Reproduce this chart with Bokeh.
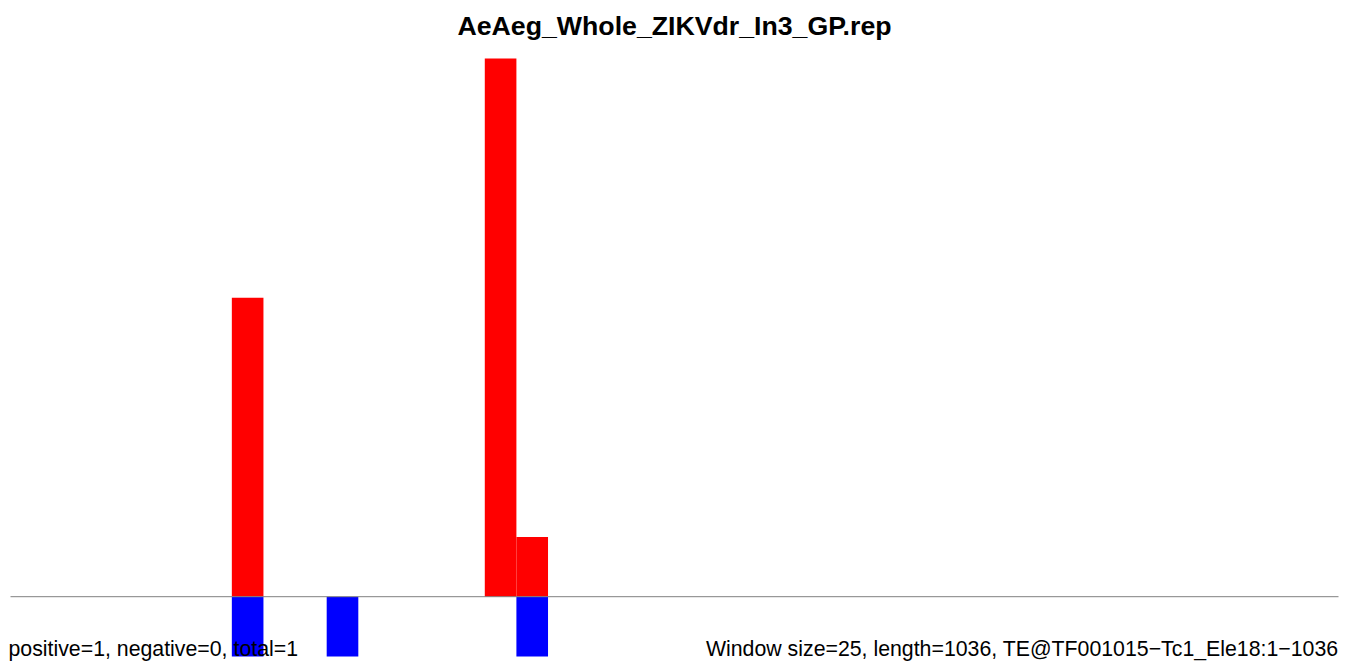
from bokeh.plotting import figure
from bokeh.models import Label, ColumnDataSource
from bokeh.embed import file_html
from bokeh.resources import INLINE

# Data (window size 25 bp, sequence length 1036 bp)
window_size = 25
seq_length = 1036
pos_window_start = [175, 375, 400]   # bp
pos_counts = [5, 9, 1]
neg_window_start = [175, 250, 400]   # bp
neg_counts = [1, 1, 1]

title_text = "AeAeg_Whole_ZIKVdr_In3_GP.rep"
left_note = "positive=1, negative=0, total=1"
right_note = "Window size=25, length=1036, TE@TF001015\u2212Tc1_Ele18:1\u22121036"

n_windows = 42
x_max = n_windows * window_size          # 1050 bp shown in the plot region
y_min, y_max = -1, 9

# Plot region in canvas pixels (frame spans the whole canvas; ranges padded so
# that the data region maps to x 10..1338, y 58..656)
W, H = 1350, 667
left_px, right_px, top_px, bottom_px = 10, 1338, 58, 656
sx = (right_px - left_px) / x_max
sy = (bottom_px - top_px) / (y_max - y_min)
x0 = -left_px / sx
x1 = x_max + (W - right_px) / sx
y1 = y_max + top_px / sy
y0 = y_min - (H - bottom_px) / sy

p = figure(width=W, height=H, x_range=(x0, x1), y_range=(y0, y1),
           output_backend="svg", toolbar_location=None,
           min_border=0, min_border_left=0, min_border_right=0,
           min_border_top=0, min_border_bottom=0)
p.axis.visible = False
p.xgrid.visible = False
p.ygrid.visible = False
p.outline_line_color = None
p.background_fill_color = "white"
p.border_fill_color = "white"

pos_src = ColumnDataSource(dict(
    left=pos_window_start,
    right=[s + window_size for s in pos_window_start],
    top=pos_counts,
    bottom=[0] * len(pos_counts)))
neg_src = ColumnDataSource(dict(
    left=neg_window_start,
    right=[s + window_size for s in neg_window_start],
    top=[0] * len(neg_counts),
    bottom=[-c for c in neg_counts]))

p.quad(left="left", right="right", top="top", bottom="bottom", source=pos_src,
       fill_color="#ff0000", line_color=None)
p.quad(left="left", right="right", top="top", bottom="bottom", source=neg_src,
       fill_color="#0000ff", line_color=None)

# zero baseline across the plot region
p.segment(x0=[0], y0=[0], x1=[x_max], y1=[0], line_color="#808080", line_width=1)

p.add_layout(Label(x=x_max / 2, y=y_max + 33 / sy, text=title_text, text_align="center",
                   text_baseline="alphabetic", text_font="Liberation Sans",
                   text_font_style="bold", text_font_size="26.7px", text_color="black"))
p.add_layout(Label(x=-2 / sx, y=y_min + 7.5 / sy, text=left_note, text_align="left",
                   text_baseline="alphabetic", text_font="Liberation Sans",
                   text_font_size="21.3px", text_color="black"))
p.add_layout(Label(x=x_max, y=y_min + 7.5 / sy, text=right_note, text_align="right",
                   text_baseline="alphabetic", text_font="Liberation Sans",
                   text_font_size="21.3px", text_color="black"))

open("out.html", "w").write(file_html(p, INLINE))
